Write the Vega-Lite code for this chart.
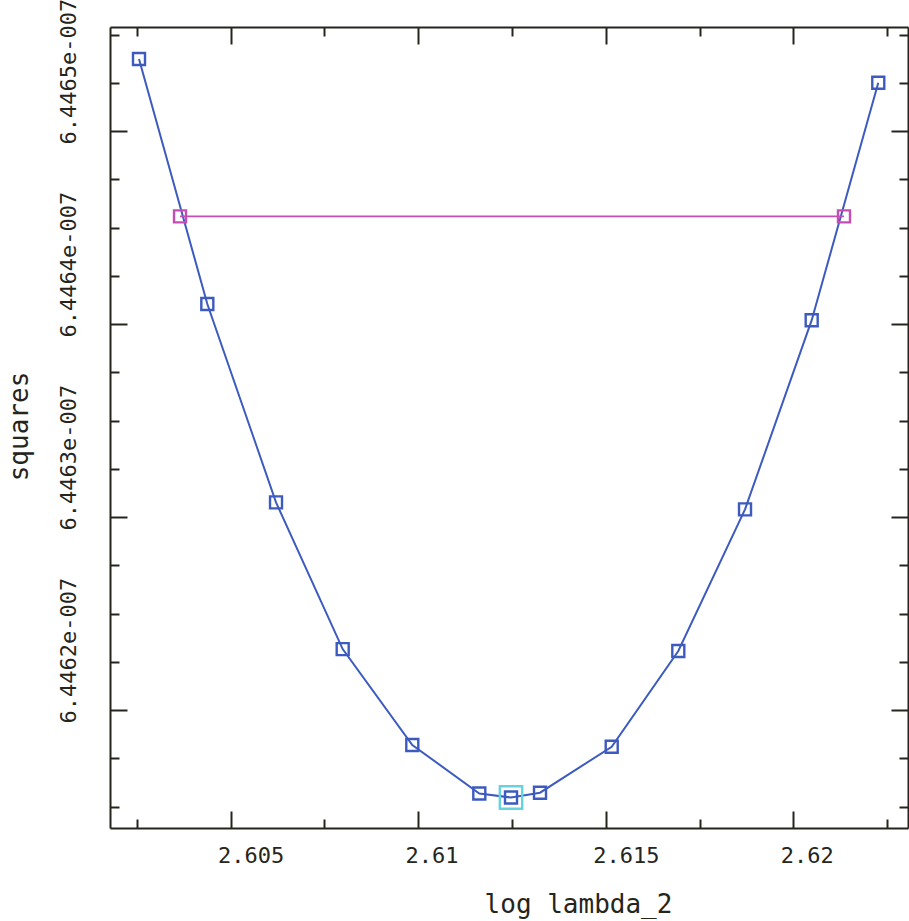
{
  "$schema": "https://vega.github.io/schema/vega-lite/v6.json",
  "autosize": {"type": "none"},
  "padding": {"left": 110, "top": 27, "right": 1, "bottom": 93},
  "width": 798,
  "height": 801,
  "background": "white",
  "config": {
    "view": {"stroke": null},
    "axis": {
      "grid": false,
      "domainColor": "#25251c",
      "domainWidth": 2,
      "tickColor": "#25251c",
      "tickWidth": 2,
      "labelColor": "#25251c",
      "titleColor": "#25251c",
      "labelFont": "DejaVu Sans Mono",
      "labelFontSize": 22,
      "titleFont": "DejaVu Sans Mono",
      "titleFontSize": 26,
      "titleFontWeight": "normal",
      "labelOverlap": false,
      "labelFlush": false
    }
  },
  "datasets": {
    "curve": [
      {"log_lambda_2": 2.602561, "squares": 6.4465373e-7},
      {"log_lambda_2": 2.604382, "squares": 6.4464104e-7},
      {"log_lambda_2": 2.606213, "squares": 6.4463076e-7},
      {"log_lambda_2": 2.60799, "squares": 6.4462316e-7},
      {"log_lambda_2": 2.609845, "squares": 6.4461819e-7},
      {"log_lambda_2": 2.611631, "squares": 6.4461568e-7},
      {"log_lambda_2": 2.612476, "squares": 6.4461547e-7},
      {"log_lambda_2": 2.613249, "squares": 6.4461572e-7},
      {"log_lambda_2": 2.61516, "squares": 6.446181e-7},
      {"log_lambda_2": 2.616935, "squares": 6.4462306e-7},
      {"log_lambda_2": 2.618713, "squares": 6.446304e-7},
      {"log_lambda_2": 2.62049, "squares": 6.446402e-7},
      {"log_lambda_2": 2.622265, "squares": 6.446525e-7}
    ],
    "level": [
      {"log_lambda_2": 2.603654, "squares": 6.4464558e-7},
      {"log_lambda_2": 2.621351, "squares": 6.4464558e-7}
    ],
    "minimum": [
      {"log_lambda_2": 2.612476, "squares": 6.4461547e-7}
    ]
  },
  "layer": [
    {
      "data": {"name": "curve"},
      "mark": {"type": "line", "color": "#3d5bbf", "strokeWidth": 2},
      "encoding": {
        "x": {
          "field": "log_lambda_2", "type": "quantitative",
          "scale": {"domain": [2.601788, 2.623057], "zero": false, "nice": false},
          "axis": {
            "orient": "bottom",
            "values": [2.6025, 2.605, 2.6075, 2.61, 2.6125, 2.615, 2.6175, 2.62, 2.6225],
            "labelExpr": "abs(datum.value*200 - round(datum.value*200)) < 0.01 ? format(datum.value, '.4~f') : ''",
            "tickSize": {"condition": {"test": "abs(datum.value*200 - round(datum.value*200)) < 0.01", "value": -17}, "value": -9},
            "labelAlign": "left",
            "labelOffset": -13,
            "labelBaseline": "alphabetic",
            "labelPadding": 51,
            "title": "log lambda_2",
            "titleX": 468,
            "titleY": 84,
            "titleAlign": "center",
            "titleBaseline": "alphabetic"
          }
        },
        "y": {
          "field": "squares", "type": "quantitative",
          "scale": {"domain": [6.4461389e-7, 6.4465539e-7], "zero": false, "nice": false},
          "axis": {
            "orient": "left",
            "values": [6.44615e-7, 6.446175e-7, 6.4462e-7, 6.446225e-7, 6.44625e-7, 6.446275e-7, 6.4463e-7, 6.446325e-7, 6.44635e-7, 6.446375e-7, 6.4464e-7, 6.446425e-7, 6.44645e-7, 6.446475e-7, 6.4465e-7, 6.446525e-7, 6.44655e-7],
            "labelExpr": "abs(datum.value*1e11 - round(datum.value*1e11)) < 0.01 ? format(datum.value*1e7, '.4f') + 'e-007' : ''",
            "tickSize": {"condition": {"test": "abs(datum.value*1e11 - round(datum.value*1e11)) < 0.01", "value": -17}, "value": -9},
            "labelAngle": 270,
            "labelAlign": "left",
            "labelBaseline": "alphabetic",
            "labelOffset": 13,
            "labelPadding": 52,
            "title": "squares",
            "titleAngle": 270,
            "titleX": -83,
            "titleY": 399,
            "titleAlign": "center",
            "titleBaseline": "alphabetic"
          }
        }
      }
    },
    {
      "data": {"name": "curve"},
      "mark": {"type": "point", "shape": "square", "filled": false, "color": "#3d5bbf", "strokeWidth": 2.4, "size": 144, "opacity": 1},
      "encoding": {
        "x": {"field": "log_lambda_2", "type": "quantitative", "scale": {"domain": [2.601788, 2.623057], "zero": false, "nice": false}, "axis": null},
        "y": {"field": "squares", "type": "quantitative", "scale": {"domain": [6.4461389e-7, 6.4465539e-7], "zero": false, "nice": false}, "axis": null}
      }
    },
    {
      "data": {"name": "level"},
      "mark": {"type": "line", "color": "#c64db6", "strokeWidth": 1.6},
      "encoding": {
        "x": {
          "field": "log_lambda_2", "type": "quantitative",
          "scale": {"domain": [2.601788, 2.623057], "zero": false, "nice": false},
          "axis": {
            "orient": "top",
            "values": [2.6025, 2.605, 2.6075, 2.61, 2.6125, 2.615, 2.6175, 2.62, 2.6225],
            "labels": false,
            "title": null,
            "tickSize": {"condition": {"test": "abs(datum.value*200 - round(datum.value*200)) < 0.01", "value": -17}, "value": -9}
          }
        },
        "y": {
          "field": "squares", "type": "quantitative",
          "scale": {"domain": [6.4461389e-7, 6.4465539e-7], "zero": false, "nice": false},
          "axis": {
            "orient": "right",
            "values": [6.44615e-7, 6.446175e-7, 6.4462e-7, 6.446225e-7, 6.44625e-7, 6.446275e-7, 6.4463e-7, 6.446325e-7, 6.44635e-7, 6.446375e-7, 6.4464e-7, 6.446425e-7, 6.44645e-7, 6.446475e-7, 6.4465e-7, 6.446525e-7, 6.44655e-7],
            "labels": false,
            "title": null,
            "tickSize": {"condition": {"test": "abs(datum.value*1e11 - round(datum.value*1e11)) < 0.01", "value": -17}, "value": -9}
          }
        }
      }
    },
    {
      "data": {"name": "level"},
      "mark": {"type": "point", "shape": "square", "filled": false, "color": "#c64db6", "strokeWidth": 2.4, "size": 144, "opacity": 1},
      "encoding": {
        "x": {"field": "log_lambda_2", "type": "quantitative", "scale": {"domain": [2.601788, 2.623057], "zero": false, "nice": false}, "axis": null},
        "y": {"field": "squares", "type": "quantitative", "scale": {"domain": [6.4461389e-7, 6.4465539e-7], "zero": false, "nice": false}, "axis": null}
      }
    },
    {
      "data": {"name": "minimum"},
      "mark": {"type": "point", "shape": "square", "filled": false, "color": "#66d3dc", "strokeWidth": 2.4, "size": 500, "opacity": 1},
      "encoding": {
        "x": {"field": "log_lambda_2", "type": "quantitative", "scale": {"domain": [2.601788, 2.623057], "zero": false, "nice": false}, "axis": null},
        "y": {"field": "squares", "type": "quantitative", "scale": {"domain": [6.4461389e-7, 6.4465539e-7], "zero": false, "nice": false}, "axis": null}
      }
    }
  ],
  "resolve": {"axis": {"x": "independent", "y": "independent"}}
}
